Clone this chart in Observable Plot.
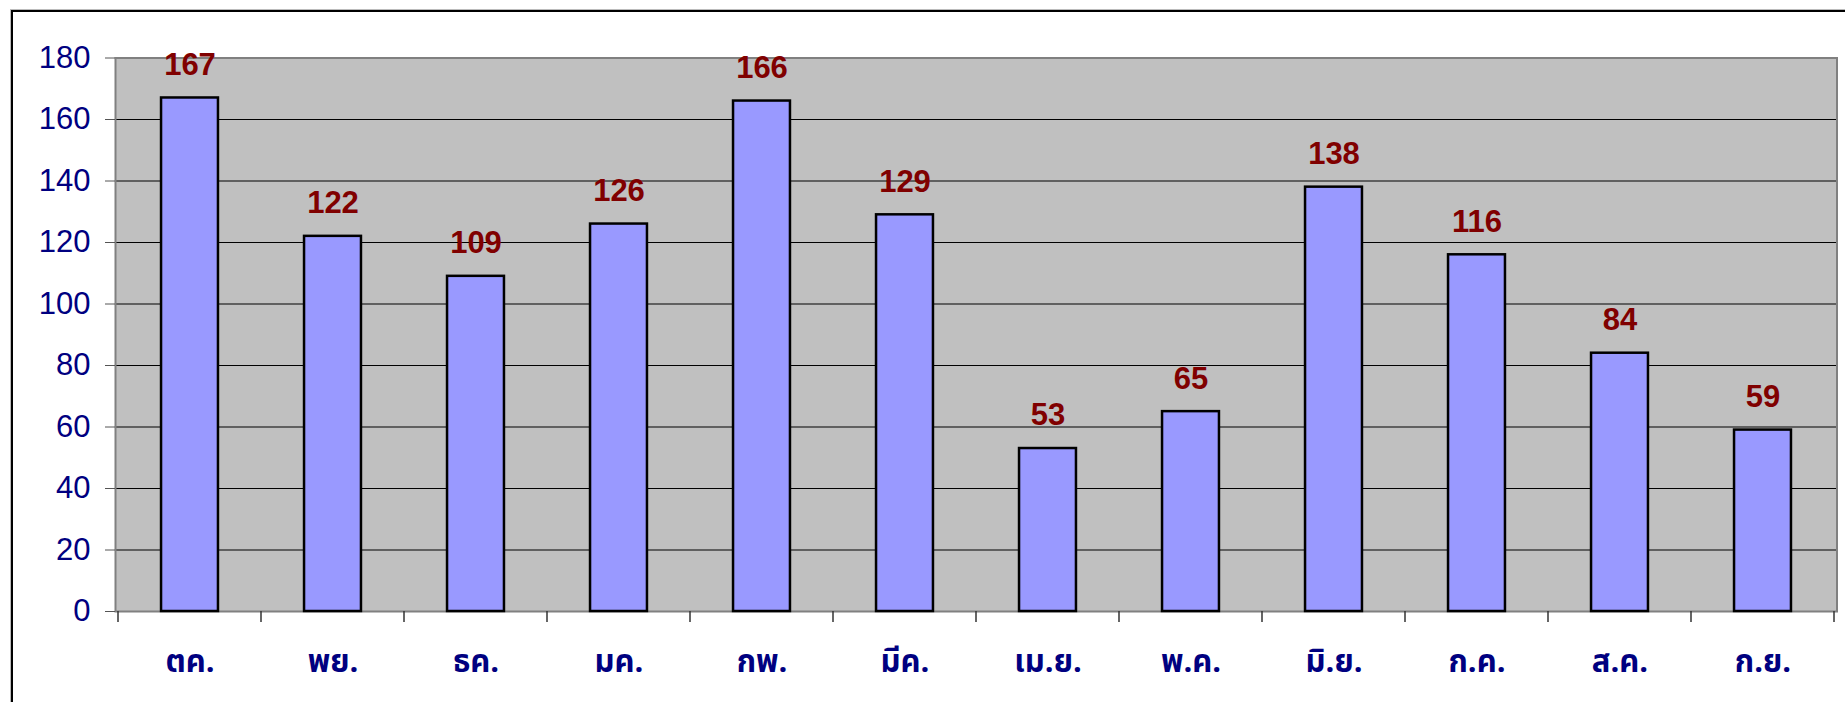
<!DOCTYPE html>
<html>
<head>
<meta charset="utf-8">
<script src="https://cdn.jsdelivr.net/npm/d3@7"></script>
<script src="https://cdn.jsdelivr.net/npm/@observablehq/plot@0.6"></script>
<style>
  html, body { margin: 0; padding: 0; background: #fff; }
  #wrap { position: relative; width: 1845px; height: 702px; overflow: hidden; }
  #outer { position: absolute; left: 11px; top: 10px; width: 1900px; height: 800px;
           border-left: 2px solid #000; border-top: 2px solid #000; box-shadow: -1px -1px 0 #bbb; }
  #chart { position: absolute; left: 0; top: 0; }
</style>
</head>
<body>
<div id="wrap"><div id="outer"></div><div id="chart"></div></div>
<script>
const months = ["ตค.", "พย.", "ธค.", "มค.", "กพ.", "มีค.", "เม.ย.", "พ.ค.", "มิ.ย.", "ก.ค.", "ส.ค.", "ก.ย."];
const values = [167, 122, 109, 126, 166, 129, 53, 65, 138, 116, 84, 59];
const yTicks = [0, 20, 40, 60, 80, 100, 120, 140, 160, 180];

const data = months.map((m, i) => ({month: m, value: values[i]}));

const W = 1845, H = 702;
const mL = 115, mR = 8.5, mT = 57.5, mB = 91;
const step = (W - mL - mR) / months.length;
const inset = step * 0.3;

const plot = Plot.plot({
  width: W,
  height: H,
  marginLeft: mL,
  marginRight: mR,
  marginTop: mT,
  marginBottom: mB,
  style: {background: "transparent", overflow: "visible"},
  x: {type: "band", domain: months, padding: 0},
  y: {domain: [0, 180]},
  marks: [
    Plot.frame({fill: "#C0C0C0", stroke: null}),
    Plot.gridY(yTicks.filter(t => t > 0 && t < 180), {stroke: "#000", strokeOpacity: 1, strokeWidth: 1}),
    Plot.frame({stroke: "#808080", strokeWidth: 2}),
    Plot.barY(data, {x: "month", y: "value", fill: "#9999FF", stroke: "#000", strokeWidth: 2.5, insetLeft: inset, insetRight: inset}),
    Plot.text(data, {x: "month", y: "value", text: d => String(d.value), fill: "#800000", fontWeight: "bold",
      fontSize: 31, fontFamily: "Liberation Sans, Arial, sans-serif", lineAnchor: "middle", dy: -33}),
    Plot.axisY({ticks: yTicks, tickSize: 10, tickPadding: 15, stroke: "#555", fill: "#000080",
      fontSize: 31, fontFamily: "Liberation Sans, Arial, sans-serif", label: null}),
    Plot.axisX({tickSize: 0, tickPadding: 38, fill: "#000080", fontWeight: "bold", fontSize: 31,
      fontFamily: "Tahoma, 'Noto Sans Thai', 'Liberation Sans', sans-serif", label: null})
  ]
});

// category boundary tick marks under the x axis, placed from Plot's own x scale
const xs = plot.scale("x");
const svg = d3.select(plot.tagName === "svg" ? plot : plot.querySelector("svg"));
const y0 = H - mB;
const bounds = months.map(m => xs.apply(m)).concat([xs.apply(months[months.length - 1]) + xs.bandwidth]);
svg.append("g").selectAll("line").data(bounds).join("line")
  .attr("x1", d => d).attr("x2", d => d)
  .attr("y1", y0).attr("y2", y0 + 11)
  .attr("stroke", "#333").attr("stroke-width", 1.5);

document.getElementById("chart").appendChild(plot);
</script>
</body>
</html>
